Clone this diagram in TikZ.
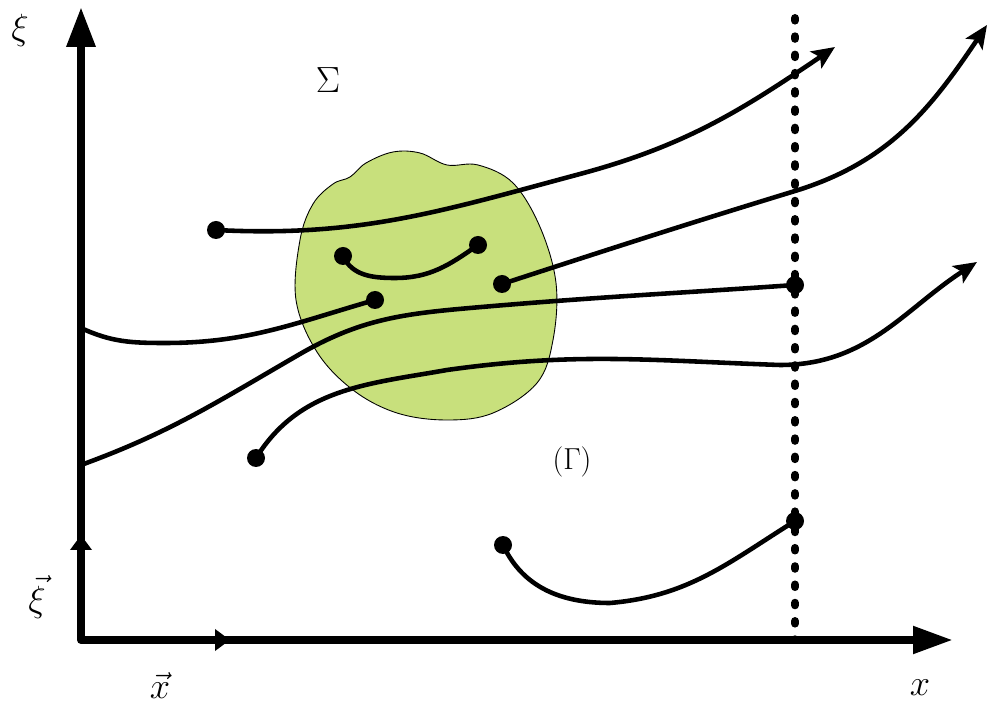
\documentclass[tikz,border=0pt]{standalone}
\usepackage{amsmath,amssymb}
\usetikzlibrary{arrows.meta}
\definecolor{blobgreen}{HTML}{C8E07C}
\definecolor{inkblack}{HTML}{000000}

\begin{document}
\begin{tikzpicture}[x=0.02cm, y=0.02cm,
  >={Stealth[length=0.46cm, width=0.4cm, inset=0.1cm]},
  axis/.style={inkblack, line width=4.5pt, line join=round},
  traj/.style={inkblack, line width=2.6pt, line cap=round},
  dot/.style={circle, fill=inkblack, inner sep=0pt, minimum size=0.36cm},
  lbl/.style={inner sep=0pt, font=\fontsize{21}{24}\selectfont}]

% Canvas — same proportions as the 989x706 frame
\useasboundingbox (0,0) rectangle (989,706);

% Region Sigma (green blob)
\filldraw[fill=blobgreen, draw=inkblack, line width=0.5pt]
  plot[smooth cycle, tension=0.6] coordinates {(296,406) (300,466) (313,502) (333,522)
    (350,529) (366,543) (393,554) (420,553) (447,541) (478,541) (513,523) (540,479)
    (556,423) (553,366) (537,323) (493,293) (447,286) (397,293) (353,316) (317,354)};

% Dotted section line
\draw[inkblack, line width=4.5pt, line cap=round, dash pattern=on 1.5pt off 8.9pt]
  (795,688) -- (795,66);

% Trajectory end points
\node[dot] (p1) at (216,476) {};
\node[dot] (p2) at (502,422) {};
\node[dot] (p3) at (375,406) {};
\node[dot] (p4) at (795,421) {};
\node[dot] (p5) at (256,248) {};
\node[dot] (p6a) at (343,450) {};
\node[dot] (p6b) at (478,461) {};
\node[dot] (p7a) at (503,161) {};
\node[dot] (p7b) at (795,185) {};
\coordinate (t1) at (835,659);
\coordinate (t2) at (987,681);
\coordinate (t5) at (977,444);
\coordinate (w3) at (81,378);
\coordinate (w4) at (81,241);

% Trajectories
\draw[traj, ->] (p1.center) to[out=-3, in=195] (580,532) to[out=15, in=214] (t1);
\draw[traj, ->] (p2.center) to[out=18, in=197] (795,515) to[out=17, in=236] (t2);
\draw[traj] (w3) to[out=-25, in=180] (165,363) to[out=0, in=196] (p3.center);
\draw[traj] (w4) to[out=20, in=210] (300,352) to[out=30, in=185] (470,398)
  to[out=5, in=184] (p4.center);
\draw[traj, ->] (p5.center) to[out=58, in=190] (447,336) to[out=8, in=178] (780,341)
  to[out=0, in=213] (t5);
\draw[traj] (p6a.center) to[out=-65, in=180] (395,428) to[out=0, in=215] (p6b.center);
\draw[traj] (p7a.center) to[out=-65, in=180] (610,103) to[out=5, in=212] (p7b.center);

% Axes
\coordinate (ax0) at (81,66);
\coordinate (axY) at (81,699);
\coordinate (axX) at (953,66);
\draw[axis, {Triangle[length=0.8cm, width=0.55cm]}-{Triangle[length=0.8cm, width=0.52cm]}]
  (axY) -- (ax0) -- (axX);
\draw[axis, -{Triangle[length=0.3cm, width=0.42cm]}] (ax0) -- (81,171);
\draw[axis, -{Triangle[length=0.3cm, width=0.42cm]}] (ax0) -- (230,66);

% Labels
\node[lbl] (xi) at (20,676) {$\xi$};
\node[lbl] (vxi) at (37,109) {$\vec{\xi}$};
\node[lbl] (vx) at (160,20) {$\vec{x}$};
\node[lbl] (xl) at (920,18) {$x$};
\node[lbl] (sigma) at (328,626) {$\Sigma$};
\node[inner sep=0pt, font=\fontsize{17}{20}\selectfont] (gamma) at (572,244) {$(\Gamma)$};

\end{tikzpicture}
\end{document}
